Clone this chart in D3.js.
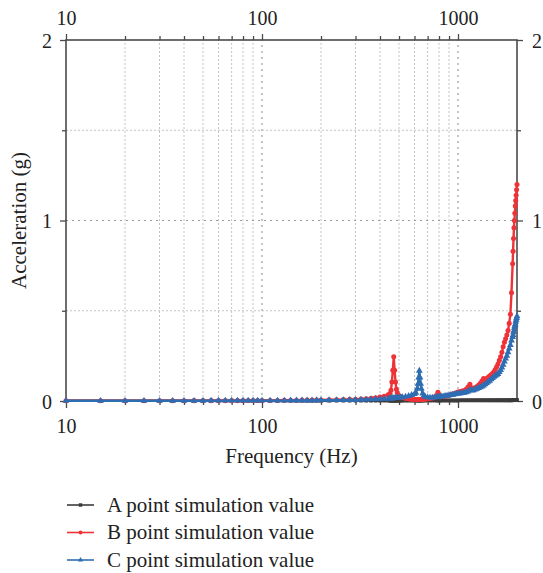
<!DOCTYPE html>
<html>
<head>
<meta charset="utf-8">
<script src="https://cdn.jsdelivr.net/npm/d3@7"></script>
<style>
  body { margin: 0; background: #fff; }
  svg text { font-family: "Liberation Serif", "Tinos", "DejaVu Serif", serif; fill: #222; }
</style>
</head>
<body>
<div id="chart"></div>
<script>
// ---- data ----
var freq = [
  10, 15, 20, 25, 30, 35, 40, 45, 50, 55, 60, 65, 70, 75, 80, 85, 90, 95, 100,
  110, 120, 130, 140, 150, 160, 170, 180, 190, 200,
  220, 240, 260, 280, 300, 320, 340, 360, 380, 400,
  420, 440, 450, 455, 460, 465, 470, 475, 480, 485, 490, 500, 510, 520, 540, 560, 580, 600,
  610, 620, 625, 630, 635, 640, 645, 650, 660, 670, 680, 700, 720, 740, 760, 780, 790, 800, 810, 820, 840, 860, 880, 900, 920, 940, 960, 980, 1000,
  1025, 1050, 1075, 1100, 1125, 1150, 1175, 1200, 1225, 1250, 1275, 1300, 1325, 1350, 1375, 1400, 1425, 1450,
  1475, 1500, 1525, 1550, 1575, 1600, 1625, 1650, 1675, 1700, 1725, 1750, 1775, 1800, 1825, 1850, 1875, 1900,
  1910, 1920, 1930, 1940, 1950, 1960, 1970, 1980, 1990, 2000
];

var pointA = [
  0.001, 0.001, 0.001, 0.001, 0.001, 0.001, 0.001, 0.001, 0.001, 0.001, 0.001, 0.001, 0.001, 0.001, 0.001, 0.001, 0.001, 0.001, 0.001,
  0.001, 0.001, 0.001, 0.001, 0.001, 0.001, 0.001, 0.001, 0.001, 0.001,
  0.002, 0.002, 0.002, 0.002, 0.002, 0.002, 0.002, 0.002, 0.002, 0.002,
  0.002, 0.002, 0.002, 0.002, 0.002, 0.002, 0.002, 0.002, 0.002, 0.002, 0.002, 0.002, 0.002, 0.002, 0.002, 0.002, 0.002, 0.002,
  0.003, 0.003, 0.003, 0.003, 0.003, 0.003, 0.003, 0.003, 0.003, 0.003, 0.003, 0.003, 0.003, 0.003, 0.003, 0.003, 0.003, 0.003, 0.003, 0.003, 0.003, 0.003, 0.003, 0.003, 0.003, 0.003, 0.003, 0.003, 0.003,
  0.004, 0.004, 0.004, 0.004, 0.004, 0.004, 0.004, 0.004, 0.004, 0.004, 0.004, 0.004, 0.004, 0.004, 0.004, 0.004, 0.004, 0.004,
  0.004, 0.004, 0.004, 0.004, 0.004, 0.004, 0.004, 0.004, 0.004, 0.004, 0.004, 0.004, 0.004, 0.004, 0.004, 0.004, 0.004, 0.004,
  0.005, 0.005, 0.005, 0.005, 0.005, 0.005, 0.005, 0.005, 0.005, 0.005
];

var pointB = [
  0.001, 0.001, 0.001, 0.001, 0.001, 0.001, 0.001, 0.002, 0.002, 0.002, 0.002, 0.002, 0.002, 0.002, 0.002, 0.003, 0.003, 0.003, 0.003,
  0.003, 0.003, 0.004, 0.004, 0.004, 0.005, 0.005, 0.005, 0.006, 0.006,
  0.007, 0.007, 0.008, 0.009, 0.010, 0.011, 0.013, 0.015, 0.018, 0.022,
  0.026, 0.034, 0.042, 0.060, 0.105, 0.170, 0.245, 0.170, 0.105, 0.065, 0.046, 0.031, 0.024, 0.019, 0.014, 0.011, 0.009, 0.008,
  0.008, 0.008, 0.008, 0.008, 0.008, 0.008, 0.008, 0.009, 0.009, 0.010, 0.010, 0.012, 0.014, 0.017, 0.022, 0.032, 0.048, 0.036, 0.027, 0.024, 0.025, 0.027, 0.029, 0.032, 0.035, 0.038, 0.042, 0.046, 0.050,
  0.052, 0.055, 0.058, 0.065, 0.078, 0.092, 0.072, 0.070, 0.074, 0.080, 0.088, 0.098, 0.110, 0.125, 0.118, 0.125, 0.132, 0.138,
  0.145, 0.152, 0.162, 0.175, 0.190, 0.205, 0.225, 0.245, 0.270, 0.300, 0.325, 0.345, 0.365, 0.390, 0.430, 0.480, 0.600, 0.760,
  0.830, 0.900, 0.960, 1.000, 1.040, 1.080, 1.110, 1.140, 1.170, 1.200
];

var pointC = [
  0.001, 0.001, 0.001, 0.001, 0.001, 0.001, 0.001, 0.001, 0.001, 0.002, 0.002, 0.002, 0.002, 0.002, 0.002, 0.002, 0.002, 0.002, 0.002,
  0.002, 0.002, 0.002, 0.003, 0.003, 0.003, 0.003, 0.003, 0.004, 0.004,
  0.004, 0.005, 0.005, 0.006, 0.006, 0.007, 0.008, 0.009, 0.010, 0.011,
  0.012, 0.013, 0.014, 0.014, 0.015, 0.015, 0.016, 0.016, 0.017, 0.017, 0.018, 0.019, 0.020, 0.021, 0.024, 0.028, 0.033, 0.039,
  0.045, 0.070, 0.095, 0.130, 0.168, 0.130, 0.095, 0.068, 0.042, 0.030, 0.024, 0.020, 0.019, 0.019, 0.020, 0.021, 0.022, 0.023, 0.024, 0.025, 0.026, 0.028, 0.029, 0.031, 0.033, 0.035, 0.037, 0.039, 0.041,
  0.042, 0.044, 0.046, 0.048, 0.052, 0.062, 0.058, 0.060, 0.064, 0.068, 0.072, 0.076, 0.080, 0.086, 0.092, 0.100, 0.106, 0.112,
  0.120, 0.127, 0.134, 0.140, 0.145, 0.150, 0.160, 0.172, 0.185, 0.200, 0.218, 0.235, 0.250, 0.270, 0.290, 0.310, 0.335, 0.355,
  0.365, 0.380, 0.390, 0.405, 0.415, 0.425, 0.440, 0.450, 0.460, 0.470
];

var seriesNames = ["A point simulation value", "B point simulation value", "C point simulation value"];
var xMajor = [10, 100, 1000];
var xMinor = [20, 30, 40, 50, 60, 70, 80, 90, 200, 300, 400, 500, 600, 700, 800, 900];
var yMajor = [0, 1, 2];
var yMinor = [0.5, 1.5];

// ---- chart ----
var width = 543, height = 573;
var margin = {top: 40, left: 66, right: 26, bottom: 172};
var fontStack = "'Liberation Serif', 'Tinos', 'DejaVu Serif', serif";
var axisColor = "#4a4a4a";
var colors = ["#3c3c3c", "#ee3338", "#2f6db3"];
var symbols = [d3.symbolSquare, d3.symbolCircle, d3.symbolTriangle];
var symbolSizes = [14, 20, 20];

var x = d3.scaleLog().domain([10, 2000]).range([margin.left, width - margin.right]);
var y = d3.scaleLinear().domain([0, 2]).range([height - margin.bottom, margin.top]);

var svg = d3.select("#chart").append("svg")
  .attr("width", width)
  .attr("height", height)
  .style("font-family", fontStack);

// grid lines
var grid = svg.append("g");
grid.selectAll("line.xminor").data(xMinor).enter().append("line")
  .attr("x1", function(d) { return x(d); }).attr("x2", function(d) { return x(d); })
  .attr("y1", y(0)).attr("y2", y(2))
  .attr("stroke", "#c4c4c4").attr("stroke-width", 1).attr("stroke-dasharray", "2,2");
grid.selectAll("line.xmajor").data([100, 1000]).enter().append("line")
  .attr("x1", function(d) { return x(d); }).attr("x2", function(d) { return x(d); })
  .attr("y1", y(0)).attr("y2", y(2))
  .attr("stroke", "#8a8a8a").attr("stroke-width", 1).attr("stroke-dasharray", "2,4");
grid.selectAll("line.yminor").data(yMinor).enter().append("line")
  .attr("x1", x(10)).attr("x2", x(2000))
  .attr("y1", function(d) { return y(d); }).attr("y2", function(d) { return y(d); })
  .attr("stroke", "#c4c4c4").attr("stroke-width", 1).attr("stroke-dasharray", "2,2");
grid.selectAll("line.ymajor").data([1]).enter().append("line")
  .attr("x1", x(10)).attr("x2", x(2000))
  .attr("y1", function(d) { return y(d); }).attr("y2", function(d) { return y(d); })
  .attr("stroke", "#9a9a9a").attr("stroke-width", 1.2).attr("stroke-dasharray", "2,4");

// axes
function styleAxis(g, labelAttrs) {
  g.attr("font-family", null);
  g.select(".domain").remove();
  g.selectAll(".tick line").attr("stroke", axisColor).attr("stroke-width", 1.3);
  var t = g.selectAll(".tick text")
    .style("font-family", fontStack)
    .attr("font-size", 20)
    .attr("fill", "#222");
  for (var k in labelAttrs) t.attr(k, labelAttrs[k]);
}

svg.append("g").attr("transform", "translate(0," + y(0) + ")")
  .call(d3.axisBottom(x).tickValues(xMajor).tickFormat(d3.format("d")).tickSize(7))
  .call(styleAxis, {y: 31.5, dy: "0"});
svg.append("g").attr("transform", "translate(0," + y(0) + ")")
  .call(d3.axisBottom(x).tickValues(xMinor).tickFormat("").tickSize(4))
  .call(styleAxis, {});
svg.append("g").attr("transform", "translate(0," + y(2) + ")")
  .call(d3.axisTop(x).tickValues(xMajor).tickFormat(d3.format("d")).tickSize(6))
  .call(styleAxis, {y: -15, dy: "0"});
svg.append("g").attr("transform", "translate(0," + y(2) + ")")
  .call(d3.axisTop(x).tickValues(xMinor).tickFormat("").tickSize(4))
  .call(styleAxis, {});
svg.append("g").attr("transform", "translate(" + x(10) + ",0)")
  .call(d3.axisLeft(y).tickValues(yMajor).tickFormat(d3.format("d")).tickSize(6))
  .call(styleAxis, {x: -14, dy: "0.35em"});
svg.append("g").attr("transform", "translate(" + x(10) + ",0)")
  .call(d3.axisLeft(y).tickValues(yMinor).tickFormat("").tickSize(4))
  .call(styleAxis, {});
svg.append("g").attr("transform", "translate(" + x(2000) + ",0)")
  .call(d3.axisRight(y).tickValues(yMajor).tickFormat(d3.format("d")).tickSize(6))
  .call(styleAxis, {x: 15, dy: "0.35em"});
svg.append("g").attr("transform", "translate(" + x(2000) + ",0)")
  .call(d3.axisRight(y).tickValues(yMinor).tickFormat("").tickSize(4))
  .call(styleAxis, {});

// frame
svg.append("rect")
  .attr("x", x(10)).attr("y", y(2))
  .attr("width", x(2000) - x(10)).attr("height", y(0) - y(2))
  .attr("fill", "none").attr("stroke", axisColor).attr("stroke-width", 1.6);

// series
var series = [pointA, pointB, pointC].map(function(vals, i) {
  return {name: seriesNames[i], color: colors[i], symbol: symbols[i], size: symbolSizes[i],
          values: freq.map(function(f, j) { return {f: f, v: vals[j]}; })};
});

var line = d3.line()
  .x(function(d) { return x(d.f); })
  .y(function(d) { return y(d.v); });

var sg = svg.append("g").selectAll("g").data(series).enter().append("g");
sg.append("path")
  .attr("d", function(d) { return line(d.values); })
  .attr("fill", "none")
  .attr("stroke", function(d) { return d.color; })
  .attr("stroke-width", 2.4)
  .attr("stroke-linejoin", "round");
sg.each(function(s) {
  d3.select(this).selectAll("path.m").data(s.values).enter().append("path")
    .attr("class", "m")
    .attr("transform", function(d) { return "translate(" + x(d.f) + "," + y(d.v) + ")"; })
    .attr("d", d3.symbol().type(s.symbol).size(s.size))
    .attr("fill", s.color);
});

// axis titles
svg.append("text")
  .attr("x", (x(10) + x(2000)) / 2).attr("y", 463)
  .attr("text-anchor", "middle").attr("font-size", 21)
  .text("Frequency (Hz)");
svg.append("text")
  .attr("transform", "translate(26," + (y(0) + y(2)) / 2 + ") rotate(-90)")
  .attr("text-anchor", "middle").attr("font-size", 21)
  .text("Acceleration (g)");

// legend
var legend = svg.append("g").selectAll("g").data(series).enter().append("g")
  .attr("transform", function(d, i) { return "translate(0," + (505 + i * 27.5) + ")"; });
legend.append("line")
  .attr("x1", 67).attr("x2", 94)
  .attr("stroke", function(d) { return d.color; }).attr("stroke-width", 1.6);
legend.append("path")
  .attr("transform", "translate(80.5,0)")
  .attr("d", function(d) { return d3.symbol().type(d.symbol).size(12)(); })
  .attr("fill", function(d) { return d.color; });
legend.append("text")
  .attr("x", 107).attr("dy", "0.33em")
  .attr("font-size", 21)
  .text(function(d) { return d.name; });
</script>
</body>
</html>
